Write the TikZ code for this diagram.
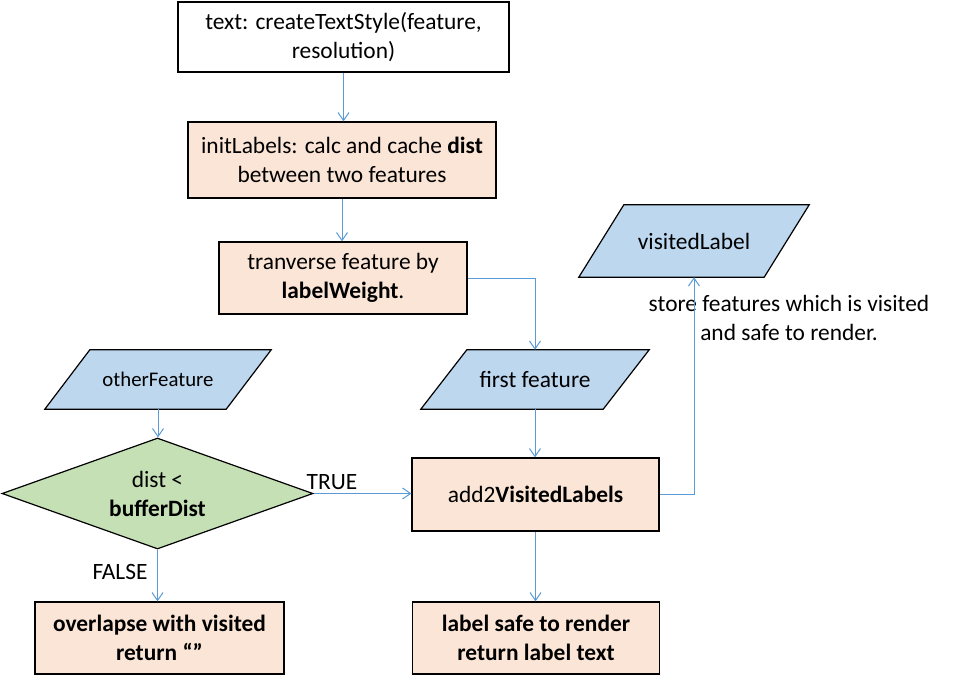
\documentclass[tikz,border=0pt]{standalone}
\usepackage{fontspec}
\setmainfont{Carlito}
\usetikzlibrary{arrows.meta,shapes.geometric,backgrounds,calc}
\definecolor{peach}{HTML}{FBE5D6}
\definecolor{pblue}{HTML}{BDD7EE}
\definecolor{dgreen}{HTML}{C5E0B4}
\definecolor{linec}{HTML}{5B9BD5}
\newcommand\drawpara[2]{%
  \begin{scope}[on background layer]
    \draw[fill=pblue, line width=1.2pt]
      ($(#1.south west)+(-#2,0)$) -- ($(#1.south east)+(-#2,0)$) --
      ($(#1.north east)+(#2,0)$) -- ($(#1.north west)+(#2,0)$) -- cycle;
  \end{scope}}
\begin{document}
\begin{tikzpicture}[x=1pt,y=-1pt,
  font=\fontsize{23.4}{29}\selectfont,
  box/.style={draw=black, line width=1.2pt, rectangle, inner sep=0pt, align=center},
  proc/.style={box, fill=peach},
  para/.style={rectangle, inner sep=0pt, align=center},
  arr/.style={draw=linec, line width=1pt, -{Straight Barb[length=8pt,width=11pt]}},
  lbl/.style={inner sep=0pt, align=center}
]
\useasboundingbox (0,0) rectangle (953,675);

\node[box, fill=white, minimum width=331pt, minimum height=70pt] (b1) at (343.5,37)
  {text: createTextStyle(feature,\\resolution)};
\node[proc, minimum width=308pt, minimum height=76pt] (b2) at (342,160)
  {initLabels: calc and cache \textbf{dist}\\between two features};
\node[proc, minimum width=248pt, minimum height=72pt] (b3) at (343,278)
  {tranverse feature by\\\textbf{labelWeight}.};

\node[para, minimum width=182pt, minimum height=59pt] (ff) at (535,379.5) {first feature};
\drawpara{ff}{23}
\node[para, minimum width=185pt, minimum height=72pt] (vl) at (694,241) {visitedLabel};
\drawpara{vl}{22.5}
\node[para, minimum width=181pt, minimum height=59pt, font=\fontsize{20.8}{25}\selectfont] (of) at (158,379.5) {otherFeature};
\drawpara{of}{22.5}

\node[draw=black, diamond, fill=dgreen, line width=1.2pt, inner sep=0pt, aspect=2.8,
  minimum width=311pt, minimum height=111pt, align=center] (dec) at (157.5,493.5)
  {dist <\\\textbf{bufferDist}};

\node[proc, minimum width=247pt, minimum height=73pt] (add) at (535.5,494.5)
  {add2\textbf{VisitedLabels}};
\node[proc, minimum width=247pt, minimum height=72pt] (safe) at (536,638)
  {\textbf{label safe to render}\\\textbf{return label text}};
\node[proc, minimum width=249pt, minimum height=72pt] (over) at (159.5,638)
  {\textbf{overlapse with visited}\\\textbf{return “”}};

\node[lbl] (tl) at (332,482) {TRUE};
\node[lbl] (fl) at (120,572) {FALSE};
\node[lbl] (st) at (789,317.5) {store features which is visited\\and safe to render.};

\draw[arr] (b1.south) -- (b1.south |- b2.north);
\draw[arr] (b2.south) -- (b2.south |- b3.north);
\draw[arr] (b3.east) -| (ff.north);
\draw[arr] (ff.south) -- (ff.south |- add.north);
\draw[arr] (of.south) -- (of.south |- dec.north);
\draw[arr] (dec.east) -- (dec.east -| add.west);
\draw[arr] (dec.south) -- (dec.south |- over.north);
\draw[arr] (add.south) -- (add.south |- safe.north);
\draw[arr] (add.east) -| (vl.south);
\end{tikzpicture}
\end{document}
